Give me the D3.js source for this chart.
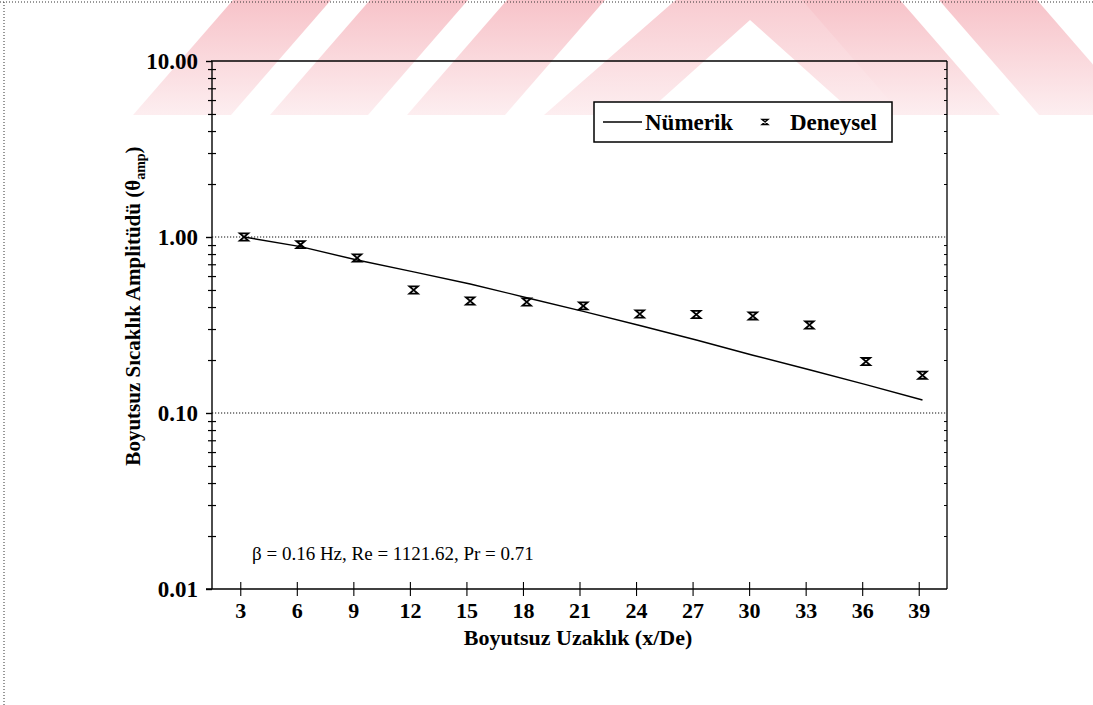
<!DOCTYPE html>
<html><head><meta charset="utf-8">
<script src="https://cdn.jsdelivr.net/npm/d3@7"></script>
<style>body{margin:0;background:#fff;overflow:hidden}</style></head>
<body>
<script>
// ---- data ----
const xTickValues = [3, 6, 9, 12, 15, 18, 21, 24, 27, 30, 33, 36, 39];
const yTickValues = [0.01, 0.1, 1, 10];
const yTickLabels = ["0.01", "0.10", "1.00", "10.00"];
const gridValues = [0.1, 1];
const expX = [3.2, 6.2, 9.2, 12.2, 15.2, 18.2, 21.2, 24.2, 27.2, 30.2, 33.2, 36.2, 39.2];
const expY = [1.0, 0.905, 0.76, 0.50, 0.433, 0.427, 0.406, 0.365, 0.363, 0.356, 0.316, 0.196, 0.164];
const numX = [3.2, 6.2, 9.2, 12.2, 15.2, 18.2, 21.2, 24.2, 27.2, 30.2, 33.2, 36.2, 39.2];
const numY = [1.0, 0.881, 0.74, 0.634, 0.541, 0.452, 0.378, 0.314, 0.26, 0.213, 0.176, 0.145, 0.1185];
const legendLabels = ["Nümerik", "Deneysel"];
const xTitle = "Boyutsuz Uzaklık (x/De)";
const yTitleMain = "Boyutsuz Sıcaklık Amplitüdü (θ";
const yTitleSub = "amp";
const note = "β = 0.16 Hz, Re = 1121.62, Pr = 0.71";

const W = 1093, H = 705;
const L = 212, R = 947, T = 61, B = 589;
const serif = "'Liberation Serif','Times New Roman',serif";

const svg = d3.select("body").append("svg").attr("width", W).attr("height", H);

// ---- watermark (decorative) ----
const defs = svg.append("defs");
const g1 = defs.append("linearGradient").attr("id", "wm").attr("x1", 0).attr("y1", 0).attr("x2", 0).attr("y2", 1);
g1.append("stop").attr("offset", "0%").attr("stop-color", "#f7c3c9");
g1.append("stop").attr("offset", "100%").attr("stop-color", "#fdeef0");
defs.append("clipPath").attr("id", "wmclip").append("rect").attr("x", 0).attr("y", 0).attr("width", W).attr("height", 115);
const wm = svg.append("g").attr("clip-path", "url(#wmclip)").attr("fill", "url(#wm)");
const sh = 100, sw = 98;
[133, 270, 407].forEach(b => {
  wm.append("path").attr("d", `M${b},115 L${b + sw},115 L${b + sw + sh},0 L${b + sh},0 Z`);
});
wm.append("path").attr("d", "M544,115 L644,115 L750,20 L856,115 L956,115 L790,-30 L710,-30 Z");
[1000, 1137].forEach(b => {
  wm.append("path").attr("d", `M${b},115 L${b - sw},115 L${b - sw - sh},0 L${b - sh},0 Z`);
});

// outer dotted border
svg.append("line").attr("x1", 0).attr("x2", W).attr("y1", 2).attr("y2", 2)
  .attr("stroke", "#333").attr("stroke-width", 1).attr("stroke-dasharray", "1,2");
svg.append("line").attr("x1", 4).attr("x2", 4).attr("y1", 2).attr("y2", H)
  .attr("stroke", "#333").attr("stroke-width", 1).attr("stroke-dasharray", "1,2");

// ---- scales ----
const x = d3.scaleLinear().domain([1.5, 40.5]).range([L, R]);
const y = d3.scaleLog().domain([0.01, 10]).range([B, T]);
const minorY = y.ticks().filter(v => !yTickValues.some(m => Math.abs(m - v) < 1e-9));

// gridlines
svg.append("g").selectAll("line").data(gridValues).join("line")
  .attr("x1", L).attr("x2", R).attr("y1", d => y(d)).attr("y2", d => y(d))
  .attr("stroke", "#111").attr("stroke-width", 1.1).attr("stroke-dasharray", "1.2,1.8");

// frame top & right
svg.append("line").attr("x1", L - 1).attr("x2", R).attr("y1", T).attr("y2", T).attr("stroke", "#000").attr("stroke-width", 1.6);
svg.append("line").attr("x1", R).attr("x2", R).attr("y1", T).attr("y2", B).attr("stroke", "#000").attr("stroke-width", 1.3);

// right minor ticks (inward)
svg.append("g").attr("transform", `translate(${R},0)`)
  .call(d3.axisLeft(y).tickValues(minorY).tickSize(3).tickFormat(""))
  .call(g => g.select(".domain").remove())
  .call(g => g.selectAll("line").attr("stroke", "#000").attr("stroke-width", 1));

// left axis: major
const yAx = svg.append("g").attr("transform", `translate(${L},0)`)
  .call(d3.axisLeft(y).tickValues(yTickValues).tickSize(6).tickPadding(8)
    .tickFormat((d, i) => yTickLabels[i]));
yAx.select(".domain").attr("stroke", "#000").attr("stroke-width", 1.4).attr("d", `M0,${T}V${B}`);
yAx.selectAll("line").attr("stroke", "#000").attr("stroke-width", 1.4);
yAx.selectAll("text").attr("font-family", serif).attr("font-weight", "bold")
  .attr("font-size", 23).attr("fill", "#000").attr("x", -14).attr("dy", "0.34em");

// left axis: minor cross ticks
svg.append("g").attr("transform", `translate(${L},0)`)
  .call(d3.axisLeft(y).tickValues(minorY).tickSize(4).tickFormat(""))
  .call(g => g.select(".domain").remove())
  .call(g => g.selectAll("line").attr("x1", 4).attr("stroke", "#000").attr("stroke-width", 1.2));

// bottom axis
const xAx = svg.append("g").attr("transform", `translate(0,${B})`)
  .call(d3.axisBottom(x).tickValues(xTickValues).tickSize(7).tickPadding(6));
xAx.select(".domain").attr("stroke", "#000").attr("stroke-width", 1.6).attr("d", `M${L - 6},0H${R}`);
xAx.selectAll("line").attr("y1", -7).attr("stroke", "#000").attr("stroke-width", 1.1);
xAx.selectAll("text").attr("font-family", serif).attr("font-weight", "bold")
  .attr("font-size", 22).attr("fill", "#000");

// titles
svg.append("text").attr("x", 578).attr("y", 645).attr("text-anchor", "middle")
  .attr("font-family", serif).attr("font-weight", "bold").attr("font-size", 22).text(xTitle);
const yt = svg.append("text").attr("transform", "translate(140,306) rotate(-90)").attr("text-anchor", "middle")
  .attr("font-family", serif).attr("font-weight", "bold").attr("font-size", 21);
yt.append("tspan").text(yTitleMain);
yt.append("tspan").attr("font-size", 14).attr("dy", 5).text(yTitleSub);
yt.append("tspan").attr("dy", -5).text(")");

// note
svg.append("text").attr("x", 252).attr("y", 560).attr("font-family", serif)
  .attr("font-size", 19).attr("fill", "#000").text(note);

// numerical line
const line = d3.line().x((d, i) => x(numX[i])).y(d => y(d));
svg.append("path").datum(numY).attr("d", line).attr("fill", "none")
  .attr("stroke", "#000").attr("stroke-width", 1.4);

// experimental markers (hourglass)
const hg = (s) => `M${-s},${-s * 0.85}H${s}L${-s},${s * 0.85}H${s}Z`;
svg.append("g").selectAll("path").data(expY).join("path")
  .attr("transform", (d, i) => `translate(${x(expX[i])},${y(d)})`)
  .attr("d", hg(4.2)).attr("fill", "none").attr("stroke", "#000").attr("stroke-width", 1.8);

// legend
const lg = svg.append("g");
lg.append("rect").attr("x", 594).attr("y", 102).attr("width", 298).attr("height", 40)
  .attr("fill", "#fff").attr("stroke", "#000").attr("stroke-width", 1.5);
lg.append("line").attr("x1", 603).attr("x2", 642).attr("y1", 122).attr("y2", 122)
  .attr("stroke", "#000").attr("stroke-width", 1.3);
lg.append("text").attr("x", 645).attr("y", 130).attr("font-family", serif).attr("font-weight", "bold")
  .attr("font-size", 23).text(legendLabels[0]);
lg.append("path").attr("transform", "translate(765,122)").attr("d", hg(3))
  .attr("fill", "none").attr("stroke", "#000").attr("stroke-width", 1.4);
lg.append("text").attr("x", 790).attr("y", 130).attr("font-family", serif).attr("font-weight", "bold")
  .attr("font-size", 23).text(legendLabels[1]);
</script>
</body></html>
